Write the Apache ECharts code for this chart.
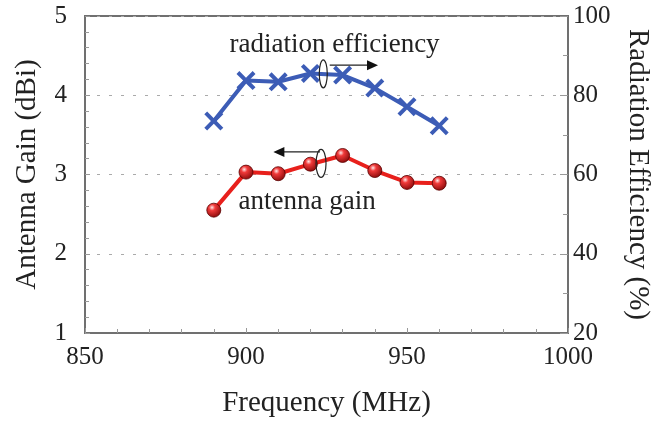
<!DOCTYPE html>
<html><head><meta charset="utf-8">
<script src="https://cdn.jsdelivr.net/npm/echarts@6/dist/echarts.min.js"></script>
<style>html,body{margin:0;padding:0;background:#fff}#c{width:662px;height:424px}</style>
</head><body><div id="c"></div>
<script>
const freq = [890, 900, 910, 920, 930, 940, 950, 960];
const gain = [2.55, 3.03, 3.01, 3.13, 3.24, 3.05, 2.90, 2.89];
const efficiency = [73.5, 83.7, 83.4, 85.5, 85.1, 81.8, 77.1, 72.3];
const xTitle = 'Frequency (MHz)';
const yLeftTitle = 'Antenna Gain (dBi)';
const yRightTitle = 'Radiation Efficiency (%)';

const FONT = '"Liberation Serif", "DejaVu Serif", serif';
const axisCol = '#707070';
const chart = echarts.init(document.getElementById('c'));
const xMark = 'path://M0,3 L3,0 L10,7 L17,0 L20,3 L13,10 L20,17 L17,20 L10,13 L3,20 L0,17 L7,10 Z';
const sphere = {
  type: 'radial', x: 0.38, y: 0.32, r: 0.7,
  colorStops: [{offset: 0, color: '#ffe8e8'}, {offset: 0.3, color: '#f03a3a'}, {offset: 1, color: '#8a0a0a'}]
};
const tickLabel = {fontFamily: FONT, fontSize: 25, color: '#222', formatter: v => String(v)};
const titleStyle = {fontFamily: FONT, fontSize: 29, color: '#222'};
chart.setOption({
  animation: false,
  grid: {left: 85, right: 94, top: 16, bottom: 91, show: true, borderColor: axisCol, borderWidth: 2},
  xAxis: {
    type: 'value', min: 850, max: 1000, interval: 50,
    name: xTitle, nameLocation: 'middle', nameGap: 56, nameTextStyle: titleStyle,
    axisLine: {show: true, lineStyle: {color: axisCol, width: 2}},
    axisTick: {show: true, inside: true, length: 5, lineStyle: {color: '#999'}},
    minorTick: {show: true, splitNumber: 5, length: 4, lineStyle: {color: '#999'}},
    axisLabel: Object.assign({margin: 12}, tickLabel),
    splitLine: {show: false}
  },
  yAxis: [{
    type: 'value', min: 1, max: 5, interval: 1, position: 'left',
    name: yLeftTitle, nameLocation: 'middle', nameGap: 43, nameRotate: 90, nameTextStyle: titleStyle,
    axisLine: {show: true, lineStyle: {color: axisCol, width: 2}},
    axisTick: {show: true, inside: true, length: 5, lineStyle: {color: '#999'}},
    minorTick: {show: true, splitNumber: 5, length: 4, lineStyle: {color: '#999'}},
    axisLabel: Object.assign({margin: 18}, tickLabel),
    splitLine: {show: true, lineStyle: {color: '#aaa', type: [3, 9], width: 1}}
  }, {
    type: 'value', min: 20, max: 100, interval: 20, position: 'right',
    name: yRightTitle, nameLocation: 'middle', nameGap: 55, nameRotate: -90, nameTextStyle: titleStyle,
    axisLine: {show: true, lineStyle: {color: axisCol, width: 2}},
    axisTick: {show: true, inside: true, length: 8, lineStyle: {color: '#999'}},
    minorTick: {show: true, splitNumber: 2, length: 5, lineStyle: {color: '#999'}},
    axisLabel: Object.assign({margin: 5}, tickLabel),
    splitLine: {show: false}
  }],
  series: [{
    name: 'radiation efficiency', type: 'line', yAxisIndex: 1,
    data: freq.map((f, i) => [f, efficiency[i]]),
    symbol: xMark, symbolSize: 19,
    lineStyle: {color: '#3c5cb6', width: 4},
    itemStyle: {color: '#3c5cb6'}, z: 3
  }, {
    name: 'antenna gain', type: 'line', yAxisIndex: 0,
    data: freq.map((f, i) => [f, gain[i]]),
    symbol: 'circle', symbolSize: 14,
    lineStyle: {color: '#e8201c', width: 4},
    itemStyle: {color: sphere, borderColor: '#5a0000', borderWidth: 0.8}, z: 3
  }]
});

function annotate() {
  const px = (x, y, idx) => chart.convertToPixel({xAxisIndex: 0, yAxisIndex: idx}, [x, y]);
  const els = [];
  const eT = px(927.5, 92.7, 1);
  els.push({type: 'text', x: eT[0], y: eT[1], style: {text: 'radiation efficiency', font: '27px ' + FONT, fill: '#222', textAlign: 'center', textVerticalAlign: 'middle'}});
  const gT = px(919, 2.66, 0);
  els.push({type: 'text', x: gT[0], y: gT[1], style: {text: 'antenna gain', font: '27px ' + FONT, fill: '#222', textAlign: 'center', textVerticalAlign: 'middle'}});
  // efficiency arrow (points right)
  const a1 = px(926, 87.6, 1), a2 = px(941, 87.6, 1);
  const e1 = px(924, 85.4, 1);
  els.push({type: 'ellipse', shape: {cx: e1[0], cy: e1[1], rx: 4, ry: 14}, style: {fill: 'none', stroke: '#222', lineWidth: 1.2}, z: 5});
  els.push({type: 'line', shape: {x1: a1[0], y1: a1[1], x2: a2[0] - 8, y2: a2[1]}, style: {stroke: '#222', lineWidth: 1.3}, z: 5});
  els.push({type: 'polygon', shape: {points: [[a2[0], a2[1]], [a2[0] - 11, a2[1] - 5], [a2[0] - 11, a2[1] + 5]]}, style: {fill: '#111'}, z: 5});
  // gain arrow (points left)
  const b1 = px(923, 3.285, 0), b2 = px(908.5, 3.285, 0);
  const e2 = px(923.3, 3.14, 0);
  els.push({type: 'ellipse', shape: {cx: e2[0], cy: e2[1], rx: 5, ry: 14}, style: {fill: 'none', stroke: '#222', lineWidth: 1.2}, z: 5});
  els.push({type: 'line', shape: {x1: b1[0], y1: b1[1], x2: b2[0] + 8, y2: b2[1]}, style: {stroke: '#222', lineWidth: 1.3}, z: 5});
  els.push({type: 'polygon', shape: {points: [[b2[0], b2[1]], [b2[0] + 11, b2[1] - 5], [b2[0] + 11, b2[1] + 5]]}, style: {fill: '#111'}, z: 5});
  chart.setOption({graphic: els});
}
annotate();
</script></body></html>
